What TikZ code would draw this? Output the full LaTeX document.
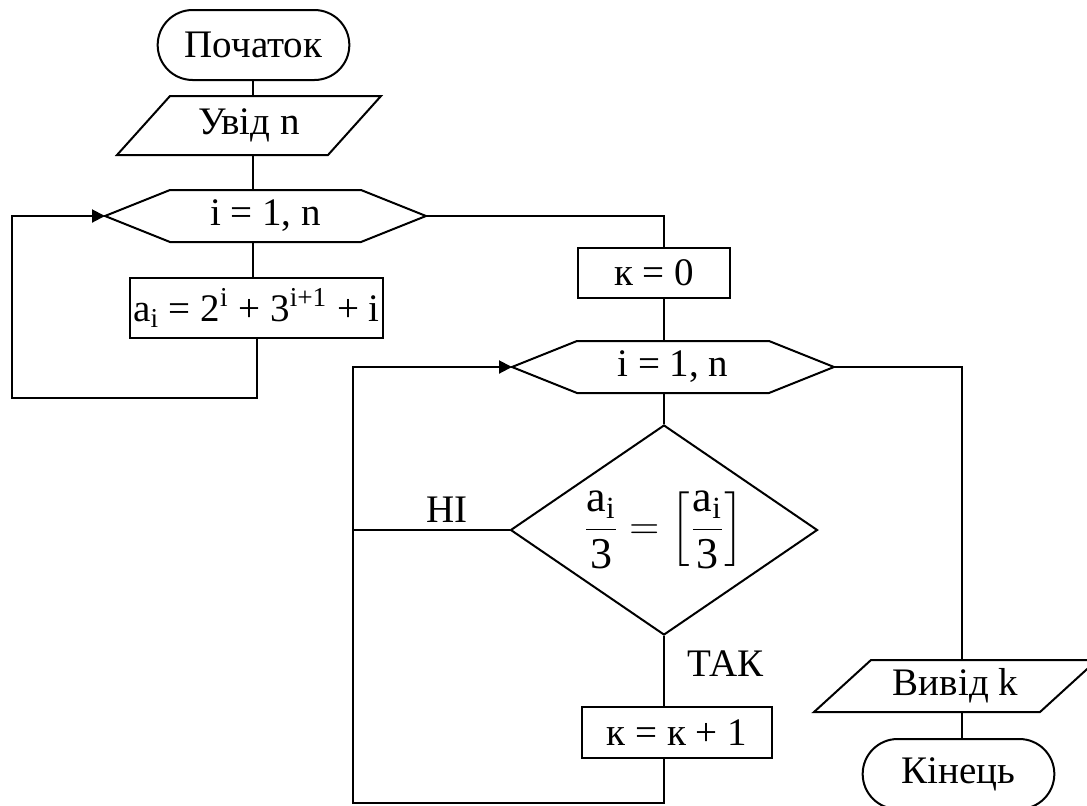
\documentclass[tikz,border=0pt]{standalone}
\usepackage{amsmath}
\usepackage{fontspec}
\setmainfont{Liberation Serif}
\usepackage{tikz}
\usetikzlibrary{shapes.misc, shapes.geometric, arrows.meta, calc}
\tikzset{
    term/.style={
        rounded rectangle,
        draw=black,
        line width=1pt,
        minimum width=102.5pt,
        minimum height=35pt,
    },
    proc/.style={
        rectangle,
        draw=black,
        line width=1pt,
        inner sep=0pt,
    },
    io/.style={
        rectangle,
        inner sep=0pt,
    },
    loopbox/.style={
        rectangle,
        inner sep=0pt,
        minimum height=25pt,
    },
    cond/.style={
        diamond,
        aspect=1.46,
        draw=black,
        line width=1pt,
        inner sep=0pt,
        minimum width=153.5pt,
        minimum height=105pt,
    },
}
% outlines of the loop heads and the input/output blocks
\newcommand{\loopframe}[1]{%
  \coordinate (#1-w) at ([xshift=-32.5pt]#1.west);
  \coordinate (#1-e) at ([xshift=32.5pt]#1.east);
  \draw (#1.north west) -- (#1.north east) -- (#1-e) -- (#1.south east)
    -- (#1.south west) -- (#1-w) -- cycle;}
\newcommand{\ioframe}[2]{%
  \draw (#1.north west) -- ([xshift=#2]#1.north east) -- (#1.south east)
    -- ([xshift=-#2]#1.south west) -- cycle;}

\begin{document}
\begin{tikzpicture}[x=0.5pt, y=-0.5pt, line width=1pt, font=\fontsize{19.5}{22}\selectfont]
      \useasboundingbox (0,0) rectangle (1087,805);

      \coordinate (spineA) at (253,0);
      \coordinate (spineB) at (664,0);
      \coordinate (spineC) at (962,0);
      \coordinate (back1) at (12,398);
      \coordinate (back2) at (353,803);

      \node[term] (start) at (253.5,45) {Початок};

      \node[io, minimum width=78pt, minimum height=28.5pt] (input) at (249,125.5) {Увід n};
      \ioframe{input}{26.5pt}

      \node[loopbox, minimum width=94.5pt] (loop1) at (265.5,216) {i = 1, n};
      \loopframe{loop1}

      \node[proc, minimum width=126.5pt, minimum height=30pt] (calc) at (256.5,308)
        {a\textsubscript{i} = 2\textsuperscript{i} + 3\textsuperscript{i+1} + i};

      \node[proc, minimum width=76pt, minimum height=25pt] (kzero) at (654,273) {к = 0};

      \node[loopbox, minimum width=95pt] (loop2) at (673,367) {i = 1, n};
      \loopframe{loop2}

      \node[cond, font=\fontsize{22}{26}\selectfont] (check) at (664,530)
        {$\dfrac{\text{a}_{\text{i}}}{\text{3}}=\left[\dfrac{\text{a}_{\text{i}}}{\text{3}}\right]$};

      \node[proc, minimum width=95pt, minimum height=25.5pt] (kinc) at (677,732.5) {к = к + 1};

      \node[io, minimum width=83.5pt, minimum height=25pt] (output) at (955.5,686) {Вивід k};
      \ioframe{output}{28.5pt}

      \node[term] (stop) at (958.5,774) {Кінець};

      % first loop
      \draw (start.south -| spineA) -- (input.north -| spineA);
      \draw (input.south -| spineA) -- (loop1.north -| spineA);
      \draw (loop1.south -| spineA) -- (calc.north -| spineA);
      \draw[-{Triangle[length=6.5pt, width=6.5pt]}] (calc.south) -- (calc.south |- back1) -- (back1) |- (loop1-w);

      % second loop
      \draw (loop1-e) -| (kzero.north -| spineB);
      \draw (kzero.south -| spineB) -- (loop2.north -| spineB);
      \draw (loop2.south -| spineB) -- (check.north);
      \draw (check.west) -- (check.west -| back2) node[pos=0.4, above] {НІ};
      \draw (check.south) -- (kinc.north -| spineB) node[pos=0.39, anchor=west, xshift=8pt] {ТАК};
      \draw[-{Triangle[length=6.5pt, width=6.5pt]}] (kinc.south -| spineB) -- (spineB |- back2) -- (back2) |- (loop2-w);

      % result
      \draw (loop2-e) -| (output.north -| spineC);
      \draw (output.south -| spineC) -- (stop.north -| spineC);

    \end{tikzpicture}
\end{document}
